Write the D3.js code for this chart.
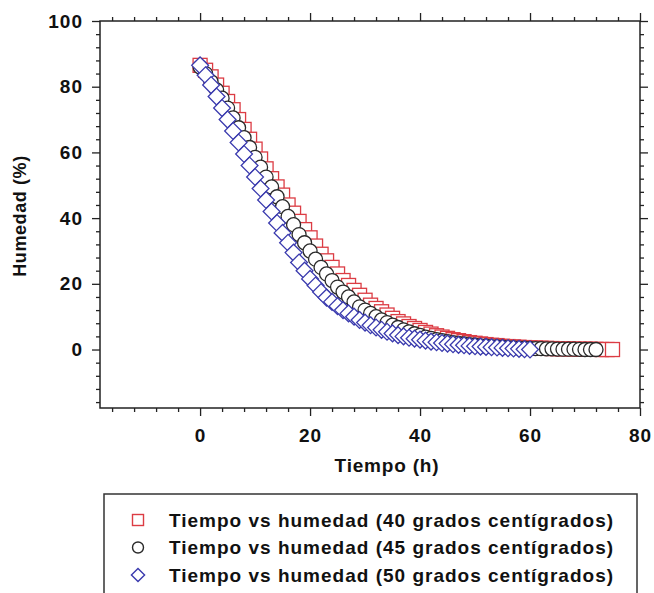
<!DOCTYPE html>
<html lang="es">
<head>
<meta charset="UTF-8">
<title>Tiempo vs humedad</title>
<style>
  body { margin: 0; background: #fff; }
  svg text { font-family: "Liberation Sans", Arial, sans-serif; font-weight: bold; fill: #111; }
</style>
</head>
<body>
<svg id="chart" width="654" height="593"></svg>
<script src="https://cdnjs.cloudflare.com/ajax/libs/d3/7.8.5/d3.min.js"></script>
<script>
// humedad (%) medida cada hora, desde t = 0 h
let humedad40 = [86.5, 85, 83, 80.5, 78, 75.5, 73, 70, 67, 64, 61, 58, 55, 52, 49.5, 47, 44, 41.5, 39, 36.5,
  34, 31.5, 29, 27, 25, 23, 21, 19.5, 18, 16.5, 15, 13.5, 12.5, 11.5, 10.5, 9.5, 8.5, 7.8, 7, 6.4,
  5.8, 5.2, 4.7, 4.2, 3.8, 3.4, 3, 2.7, 2.4, 2.1, 1.9, 1.7, 1.5, 1.3, 1.2, 1, 0.9, 0.8, 0.7, 0.6,
  0.5, 0.45, 0.4, 0.35, 0.3, 0.25, 0.2, 0.2, 0.15, 0.1, 0.1, 0.1, 0.05, 0, 0, 0];
let humedad45 = [86, 84, 81.5, 79, 76.5, 73.5, 70.5, 67.5, 64.5, 61.5, 58.5, 55.5, 52.5, 49.5, 46.5, 43.5, 40.5, 38, 35, 32.5,
  30, 27.5, 25, 23, 21, 19, 17.5, 16, 14.5, 13, 12, 11, 10, 9, 8.2, 7.4, 6.7, 6, 5.4, 4.8,
  4.3, 3.8, 3.4, 3, 2.7, 2.4, 2.1, 1.9, 1.7, 1.5, 1.3, 1.1, 1, 0.9, 0.8, 0.7, 0.6, 0.5, 0.45, 0.4,
  0.35, 0.3, 0.25, 0.2, 0.2, 0.15, 0.1, 0.1, 0.1, 0.05, 0, 0, 0];
let humedad50 = [86.5, 83.5, 80.5, 77, 73.5, 70, 66.5, 63, 59.5, 56, 52.5, 49, 45.5, 42, 38.5, 35.5, 32.5, 29.5, 26.5, 24,
  21.5, 19.5, 17.5, 15.8, 14.5, 13.2, 12, 11, 10, 9, 8.2, 7.4, 6.7, 6, 5.4, 4.9, 4.4, 4, 3.6, 3.3,
  3, 2.7, 2.4, 2.2, 2, 1.8, 1.6, 1.4, 1.3, 1.1, 1, 0.9, 0.8, 0.7, 0.6, 0.5, 0.4, 0.3, 0.2, 0.1, 0];

let xTicks = [0, 20, 40, 60, 80];
let yTicks = [0, 20, 40, 60, 80, 100];

let series = [
  { name: "Tiempo vs humedad (40 grados centígrados)", values: humedad40, shape: "square", color: "#dc3c44" },
  { name: "Tiempo vs humedad (45 grados centígrados)", values: humedad45, shape: "circle", color: "#2a2a2a" },
  { name: "Tiempo vs humedad (50 grados centígrados)", values: humedad50, shape: "diamond", color: "#3a3aae" }
];

let margin = { top: 21, right: 14, bottom: 185, left: 100 };
let width = 654, height = 593;

let svg = d3.select("#chart");

let x = d3.scaleLinear().domain([-18.2, 80]).range([margin.left, width - margin.right]);
let y = d3.scaleLinear().domain([-17.8, 100]).range([height - margin.bottom, margin.top]);

let minorX = d3.range(-16, 81, 4).filter(v => xTicks.indexOf(v) < 0);
let minorY = d3.range(-16, 101, 4).filter(v => yTicks.indexOf(v) < 0);

function drawAxis(axis, vals, size, cls) {
  return g => g.call(axis.tickValues(vals).tickSize(size).tickSizeOuter(0).tickFormat(cls == "major" ? d3.format("d") : ""))
    .call(g => g.select(".domain").remove())
    .call(g => g.selectAll("line").attr("stroke", "#222").attr("stroke-width", 1.3))
    .call(g => g.selectAll("text").attr("font-size", 19).attr("letter-spacing", 1).attr("fill", "#111"));
}

let yb = height - margin.bottom, xr = width - margin.right;

svg.append("g").attr("transform", `translate(0,${yb})`).call(drawAxis(d3.axisBottom(x), minorX, 4, "minor"));
svg.append("g").attr("transform", `translate(0,${yb})`).call(drawAxis(d3.axisBottom(x), xTicks, 8, "major"))
  .selectAll("text").attr("dy", "1.2em");
svg.append("g").attr("transform", `translate(0,${margin.top})`).call(drawAxis(d3.axisTop(x), minorX, 4, "minor"));
svg.append("g").attr("transform", `translate(0,${margin.top})`).call(drawAxis(d3.axisTop(x), xTicks, 8, "minor"));

svg.append("g").attr("transform", `translate(${margin.left},0)`).call(drawAxis(d3.axisLeft(y), minorY, 4, "minor"));
svg.append("g").attr("transform", `translate(${margin.left},0)`).call(drawAxis(d3.axisLeft(y), yTicks, 8, "major"))
  .selectAll("text").attr("x", -17);
svg.append("g").attr("transform", `translate(${xr},0)`).call(drawAxis(d3.axisRight(y), minorY, 4, "minor"));
svg.append("g").attr("transform", `translate(${xr},0)`).call(drawAxis(d3.axisRight(y), yTicks, 8, "minor"));

// marco
svg.append("rect")
  .attr("x", margin.left).attr("y", margin.top)
  .attr("width", xr - margin.left).attr("height", yb - margin.top)
  .attr("fill", "none").attr("stroke", "#222").attr("stroke-width", 1.5);

// marcadores
function marker(sel, shape, s) {
  if (shape == "square") {
    sel.append("rect").attr("x", -s * 0.5).attr("y", -s * 0.5).attr("width", s).attr("height", s);
  } else if (shape == "circle") {
    sel.append("circle").attr("r", s * 0.5);
  } else {
    let h = s * 0.6;
    sel.append("path").attr("d", `M0,${-h}L${h},0L0,${h}L${-h},0Z`);
  }
}

let plot = svg.append("g");
series.forEach(sr => {
  let pts = plot.append("g").selectAll("g")
    .data(sr.values)
    .join("g")
    .attr("transform", (d, i) => `translate(${x(i)},${y(d)})`)
    .attr("fill", "#fff")
    .attr("stroke", sr.color)
    .attr("stroke-width", 1.3);
  pts.each(function() { marker(d3.select(this), sr.shape, 14); });
});

// títulos de ejes
svg.append("text").attr("x", 387).attr("y", 472).attr("text-anchor", "middle")
  .attr("font-size", 19).attr("letter-spacing", 0.8).text("Tiempo (h)");
svg.append("text").attr("transform", "translate(26,216) rotate(-90)").attr("text-anchor", "middle")
  .attr("font-size", 18).attr("letter-spacing", 0.6).text("Humedad (%)");

// leyenda
let leg = svg.append("g");
leg.append("rect").attr("x", 104).attr("y", 494).attr("width", 533).attr("height", 130)
  .attr("fill", "#fff").attr("stroke", "#333").attr("stroke-width", 1.5);
series.forEach((sr, i) => {
  let row = leg.append("g").attr("transform", `translate(0,${520 + i * 27.5})`);
  let m = row.append("g").attr("transform", "translate(138,0)")
    .attr("fill", "#fff").attr("stroke", sr.color).attr("stroke-width", 1.4);
  marker(m, sr.shape, 11);
  row.append("text").attr("x", 169).attr("dy", "0.36em").attr("font-size", 19)
    .attr("letter-spacing", 1).text(sr.name);
});
</script>
</body>
</html>
